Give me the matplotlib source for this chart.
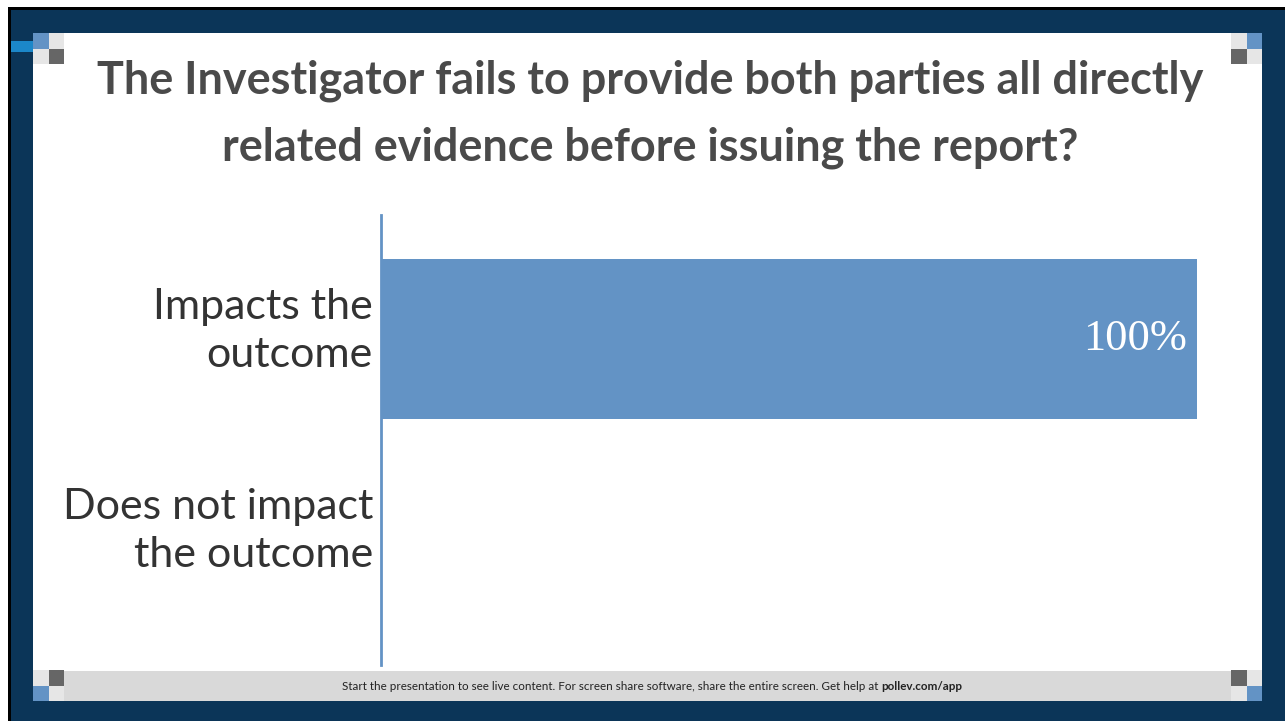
import matplotlib
matplotlib.use("Agg")
import matplotlib.pyplot as plt
from matplotlib.patches import Rectangle
from matplotlib.transforms import Bbox, ScaledTranslation, IdentityTransform, blended_transform_factory

# chart data
title = "The Investigator fails to provide both parties all directly\nrelated evidence before issuing the report?"
categories = ["Impacts the\noutcome", "Does not impact\nthe outcome"]
percents = [100, 0]
footer = "Start the presentation to see live content. For screen share software, share the entire screen. Get help at "
footer_bold = "pollev.com/app"

W, H = 1285, 721
navy = "#0b3558"
bar_blue = "#6393c5"
lgray = "#e6e6e6"
dgray = "#666666"

fig = plt.figure(figsize=(W / 100, H / 100), dpi=100)
fig.patch.set_facecolor("white")

# background frame drawn in pixel space
bg = fig.add_axes([0, 0, 1, 1])
bg.set_xlim(0, W)
bg.set_ylim(H, 0)
bg.axis("off")
bg.add_patch(Rectangle((8, 7), W - 8, H - 7, color="black", lw=0))
bg.add_patch(Rectangle((11, 10), W - 11, H - 10, color=navy, lw=0))
bg.add_patch(Rectangle((33, 33), 1229, 638, color="white", lw=0))
bg.add_patch(Rectangle((33, 671), 1229, 30, color="#d9d9d9", lw=0))
bg.add_patch(Rectangle((11, 41), 22, 11, color="#1b87c9", lw=0))

# corner squares
def corner(x, y, cols):
    for i, c in enumerate(cols):
        bg.add_patch(Rectangle((x + (i % 2) * 15.5, y + (i // 2) * 15.5), 15.5, 15.5, color=c, lw=0))

corner(33, 33, [bar_blue, lgray, lgray, dgray])
corner(1231, 33, [lgray, bar_blue, dgray, lgray])
corner(33, 670, [lgray, dgray, bar_blue, lgray])
corner(1231, 670, [dgray, lgray, lgray, bar_blue])

# title
bg.text(650, 114, title, ha="center", va="center", fontsize=32.4, fontweight="bold",
        family="Lato", color="#4a4a4a", linespacing=1.72)

# footer: regular part then bold part right after it
t = bg.text(342, 687, footer, ha="left", va="center", fontsize=8.4, family="Lato", color="#222222")
fig.canvas.draw()
x_end = t.get_window_extent().x1
bg.text(x_end, 687, footer_bold, ha="left", va="center", fontsize=8.4, family="Lato",
        fontweight="bold", color="#222222",
        transform=blended_transform_factory(IdentityTransform(), bg.transData))

# main chart
ax = fig.add_axes([381 / W, (H - 665) / H, (1197 - 381) / W, (665 - 215) / H])
ax.set_facecolor("none")
ypos = list(range(len(categories)))
ax.barh(ypos, percents, height=0.8, color=bar_blue)
ax.set_xlim(0, 100)
ax.set_ylim(1.63, -0.62)
ax.set_yticks([])
ax.set_xticks([])
for s in ["top", "right", "bottom"]:
    ax.spines[s].set_visible(False)
ax.spines["left"].set_color(bar_blue)
ax.spines["left"].set_linewidth(2)

# category labels, right aligned left of the axis line
lab_tr = ax.get_yaxis_transform() + ScaledTranslation(-0.08, 0.08, fig.dpi_scale_trans)
labels = []
for y, c in zip(ypos, categories):
    labels.append(ax.text(0, y, c, ha="right", va="center", fontsize=31, family="Lato",
                          color="#333333", linespacing=1.3, transform=lab_tr, clip_on=False))

for y, p in zip(ypos, percents):
    if p > 0:
        ax.text(p - 1.2, y, f"{p}%", ha="right", va="center", fontsize=32,
                family="Liberation Serif", color="white")

# first label's second line is cut off at the bottom in the reference
labels[0].set_clip_box(Bbox([[0, H - 366.5], [W, H]]))
labels[0].set_clip_on(True)

fig.savefig("out.png", dpi=100)
